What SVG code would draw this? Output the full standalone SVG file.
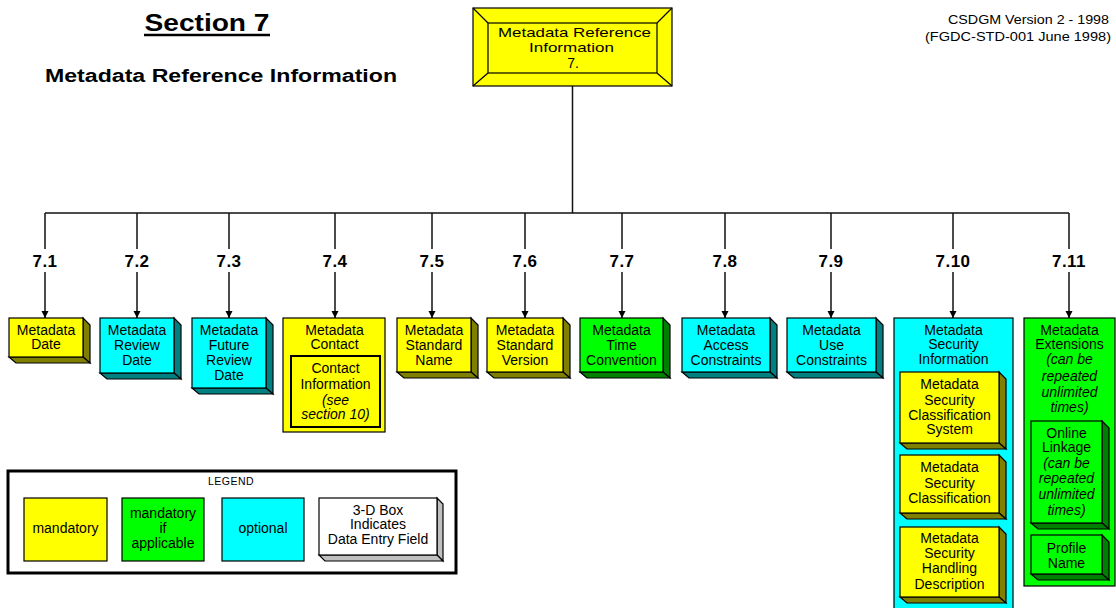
<svg xmlns="http://www.w3.org/2000/svg" width="1116" height="608" viewBox="0 0 1116 608">
<style>
text{font-family:"Liberation Sans",Arial,sans-serif;font-size:14px;fill:#000;text-anchor:middle}
.i{font-style:italic}
.lbl{font-weight:bold;font-size:17px;letter-spacing:0.5px}
.f{stroke:#000;stroke-width:1.2}
.y{fill:#ffff00}.yd{fill:#808000}
.g{fill:#00ff00}.gd{fill:#008000}
.c{fill:#00ffff}.cd{fill:#008080}
.w{fill:#fff}.wd{fill:#c0c0c0}
.ln{stroke:#111;stroke-width:1.5;fill:none}
</style>
<defs>
<marker id="ah" markerUnits="userSpaceOnUse" markerWidth="8" markerHeight="8" refX="7" refY="4" orient="auto">
<path d="M0,0.5 L7,4 L0,7.5 z" fill="#000"/>
</marker>
</defs>
<rect width="1116" height="608" fill="#fff"/>

<g id="titles">
<text x="207" y="31" style="font-weight:bold;font-size:23px" textLength="125" lengthAdjust="spacingAndGlyphs">Section 7</text>
<line x1="144" y1="35" x2="270" y2="35" stroke="#000" stroke-width="2.5"/>
<text x="221" y="82" style="font-weight:bold;font-size:18px" textLength="352" lengthAdjust="spacingAndGlyphs">Metadata Reference Information</text>
<text x="948" y="24" style="text-anchor:start;font-size:13px" textLength="161" lengthAdjust="spacingAndGlyphs">CSDGM Version 2 - 1998</text>
<text x="925" y="41" style="text-anchor:start;font-size:13px" textLength="186" lengthAdjust="spacingAndGlyphs">(FGDC-STD-001 June 1998)</text>
</g>

<g id="connectors">
<line class="ln" x1="572.5" y1="86" x2="572.5" y2="213"/>
<line class="ln" x1="45" y1="213" x2="1069" y2="213"/>
<path class="ln" d="M45,213V249M137,213V249M229,213V249M335,213V249M432,213V249M525,213V249M622,213V249M725,213V249M831,213V249M953,213V249M1069,213V249"/>
<line class="ln" x1="45" y1="272" x2="45" y2="318" marker-end="url(#ah)"/>
<line class="ln" x1="137" y1="272" x2="137" y2="318" marker-end="url(#ah)"/>
<line class="ln" x1="229" y1="272" x2="229" y2="318" marker-end="url(#ah)"/>
<line class="ln" x1="335" y1="272" x2="335" y2="318" marker-end="url(#ah)"/>
<line class="ln" x1="432" y1="272" x2="432" y2="318" marker-end="url(#ah)"/>
<line class="ln" x1="525" y1="272" x2="525" y2="318" marker-end="url(#ah)"/>
<line class="ln" x1="622" y1="272" x2="622" y2="318" marker-end="url(#ah)"/>
<line class="ln" x1="725" y1="272" x2="725" y2="318" marker-end="url(#ah)"/>
<line class="ln" x1="831" y1="272" x2="831" y2="318" marker-end="url(#ah)"/>
<line class="ln" x1="953" y1="272" x2="953" y2="318" marker-end="url(#ah)"/>
<line class="ln" x1="1069" y1="272" x2="1069" y2="318" marker-end="url(#ah)"/>
</g>

<g id="labels">
<text class="lbl" x="45" y="267">7.1</text>
<text class="lbl" x="137" y="267">7.2</text>
<text class="lbl" x="229" y="267">7.3</text>
<text class="lbl" x="335" y="267">7.4</text>
<text class="lbl" x="432" y="267">7.5</text>
<text class="lbl" x="525" y="267">7.6</text>
<text class="lbl" x="622" y="267">7.7</text>
<text class="lbl" x="725" y="267">7.8</text>
<text class="lbl" x="831" y="267">7.9</text>
<text class="lbl" x="953" y="267">7.10</text>
<text class="lbl" x="1069" y="267">7.11</text>
</g>

<g id="n7">
<rect class="y f" x="473" y="8" width="199" height="78"/>
<rect class="y f" x="488" y="23" width="169" height="50"/>
<path class="f" d="M473,8L488,23M672,8L657,23M473,86L488,73M672,86L657,73"/>
<text x="574.5" y="37" style="font-size:13.5px" textLength="153" lengthAdjust="spacingAndGlyphs">Metadata Reference</text>
<text x="571.5" y="52" style="font-size:13.5px" textLength="85" lengthAdjust="spacingAndGlyphs">Information</text>
<text x="573" y="68" style="font-size:14px">7.</text>
</g>

<g id="n7_1">
<path class="yd f" d="M83,318L90,325L90,363L83,357Z"/>
<path class="yd f" d="M9,357L83,357L90,363L16,363Z"/>
<rect class="y f" x="9" y="318" width="74" height="39"/>
<text x="46" y="335">Metadata</text>
<text x="46" y="349">Date</text>
</g>

<g id="n7_2">
<path class="cd f" d="M174,318L181,325L181,379L174,373Z"/>
<path class="cd f" d="M100,373L174,373L181,379L107,379Z"/>
<rect class="c f" x="100" y="318" width="74" height="55"/>
<text x="137" y="335">Metadata</text>
<text x="137" y="350">Review</text>
<text x="137" y="365">Date</text>
</g>

<g id="n7_3">
<path class="cd f" d="M266,318L273,325L273,394L266,388Z"/>
<path class="cd f" d="M192,388L266,388L273,394L199,394Z"/>
<rect class="c f" x="192" y="318" width="74" height="70"/>
<text x="229" y="335">Metadata</text>
<text x="229" y="349.5">Future</text>
<text x="229" y="364.5">Review</text>
<text x="229" y="380">Date</text>
</g>

<g id="n7_4">
<rect class="y f" x="283" y="318" width="102" height="114"/>
<text x="334.5" y="335">Metadata</text>
<text x="334.5" y="349">Contact</text>
<g id="n7_4_1">
<rect class="y" x="291" y="356" width="89" height="71" stroke="#000" stroke-width="2"/>
<text x="335.5" y="373">Contact</text>
<text x="335.5" y="389">Information</text>
<text class="i" x="335.5" y="405">(see</text>
<text class="i" x="335.5" y="419">section 10)</text>
</g>
</g>

<g id="n7_5">
<path class="yd f" d="M471,318L478,325L478,378L471,372Z"/>
<path class="yd f" d="M397,372L471,372L478,378L404,378Z"/>
<rect class="y f" x="397" y="318" width="74" height="54"/>
<text x="434" y="335">Metadata</text>
<text x="434" y="349.5">Standard</text>
<text x="434" y="365">Name</text>
</g>

<g id="n7_6">
<path class="yd f" d="M563,318L570,325L570,378L563,372Z"/>
<path class="yd f" d="M487,372L563,372L570,378L494,378Z"/>
<rect class="y f" x="487" y="318" width="76" height="54"/>
<text x="525" y="335">Metadata</text>
<text x="525" y="349.5">Standard</text>
<text x="525" y="365">Version</text>
</g>

<g id="n7_7">
<path class="gd f" d="M663,318L670,325L670,378L663,372Z"/>
<path class="gd f" d="M580,372L663,372L670,378L587,378Z"/>
<rect class="g f" x="580" y="318" width="83" height="54"/>
<text x="621.5" y="335">Metadata</text>
<text x="621.5" y="349.5">Time</text>
<text x="621.5" y="365">Convention</text>
</g>

<g id="n7_8">
<path class="cd f" d="M770,318L777,325L777,378L770,372Z"/>
<path class="cd f" d="M682,372L770,372L777,378L689,378Z"/>
<rect class="c f" x="682" y="318" width="88" height="54"/>
<text x="726" y="335">Metadata</text>
<text x="726" y="349.5">Access</text>
<text x="726" y="365">Constraints</text>
</g>

<g id="n7_9">
<path class="cd f" d="M876,318L883,325L883,378L876,372Z"/>
<path class="cd f" d="M787,372L876,372L883,378L794,378Z"/>
<rect class="c f" x="787" y="318" width="89" height="54"/>
<text x="831.5" y="335">Metadata</text>
<text x="831.5" y="349.5">Use</text>
<text x="831.5" y="365">Constraints</text>
</g>

<g id="n7_10">
<rect class="c f" x="894" y="318" width="119" height="300"/>
<text x="953.5" y="335">Metadata</text>
<text x="953.5" y="349">Security</text>
<text x="953.5" y="364">Information</text>
<g id="n7_10_1">
<path class="yd f" d="M999,372L1006,379L1006,449L999,443Z"/>
<path class="yd f" d="M900,443L999,443L1006,449L907,449Z"/>
<rect class="y f" x="900" y="372" width="99" height="71"/>
<text x="949.5" y="389">Metadata</text>
<text x="949.5" y="405">Security</text>
<text x="949.5" y="420">Classification</text>
<text x="949.5" y="434">System</text>
</g>
<g id="n7_10_2">
<path class="yd f" d="M999,455L1006,462L1006,519L999,513Z"/>
<path class="yd f" d="M900,513L999,513L1006,519L907,519Z"/>
<rect class="y f" x="900" y="455" width="99" height="58"/>
<text x="949.5" y="472">Metadata</text>
<text x="949.5" y="488">Security</text>
<text x="949.5" y="503">Classification</text>
</g>
<g id="n7_10_3">
<path class="yd f" d="M999,527L1006,534L1006,603L999,597Z"/>
<path class="yd f" d="M900,597L999,597L1006,603L907,603Z"/>
<rect class="y f" x="900" y="527" width="99" height="70"/>
<text x="949.5" y="543">Metadata</text>
<text x="949.5" y="558">Security</text>
<text x="949.5" y="573">Handling</text>
<text x="949.5" y="589">Description</text>
</g>
</g>

<g id="n7_11">
<rect class="g f" x="1024" y="318" width="91" height="268"/>
<text x="1069.5" y="335">Metadata</text>
<text x="1069.5" y="349">Extensions</text>
<text class="i" x="1069.5" y="364">(can be</text>
<text class="i" x="1069.5" y="381">repeated</text>
<text class="i" x="1069.5" y="397">unlimited</text>
<text class="i" x="1069.5" y="412">times)</text>
<g id="n7_11_1">
<path class="gd f" d="M1102,421L1109,428L1109,529L1102,523Z"/>
<path class="gd f" d="M1031,523L1102,523L1109,529L1038,529Z"/>
<rect class="g f" x="1031" y="421" width="71" height="102"/>
<text x="1066.5" y="438">Online</text>
<text x="1066.5" y="452">Linkage</text>
<text class="i" x="1066.5" y="468">(can be</text>
<text class="i" x="1066.5" y="483">repeated</text>
<text class="i" x="1066.5" y="499">unlimited</text>
<text class="i" x="1066.5" y="515">times)</text>
</g>
<g id="n7_11_2">
<path class="gd f" d="M1102,535L1109,542L1109,580L1102,574Z"/>
<path class="gd f" d="M1031,574L1102,574L1109,580L1038,580Z"/>
<rect class="g f" x="1031" y="535" width="71" height="39"/>
<text x="1066.5" y="553">Profile</text>
<text x="1066.5" y="568">Name</text>
</g>
</g>

<g id="legend">
<rect x="8" y="471" width="448" height="102" fill="#fff" stroke="#000" stroke-width="3"/>
<text x="231" y="485" style="font-size:10.5px;letter-spacing:0.5px">LEGEND</text>
<rect class="y f" x="24" y="498" width="83" height="63"/>
<text x="65.5" y="533">mandatory</text>
<rect class="g f" x="122" y="498" width="82" height="63"/>
<text x="163" y="518">mandatory</text>
<text x="163" y="533">if</text>
<text x="163" y="548">applicable</text>
<rect class="c f" x="222" y="498" width="82" height="63"/>
<text x="263" y="533">optional</text>
<path class="wd f" d="M437,498L443,504L443,561L437,555Z"/>
<path class="wd f" d="M319,555L437,555L443,561L325,561Z"/>
<rect class="w f" x="319" y="498" width="118" height="57"/>
<text x="378" y="515">3-D Box</text>
<text x="378" y="529">Indicates</text>
<text x="378" y="544">Data Entry Field</text>
</g>
</svg>
